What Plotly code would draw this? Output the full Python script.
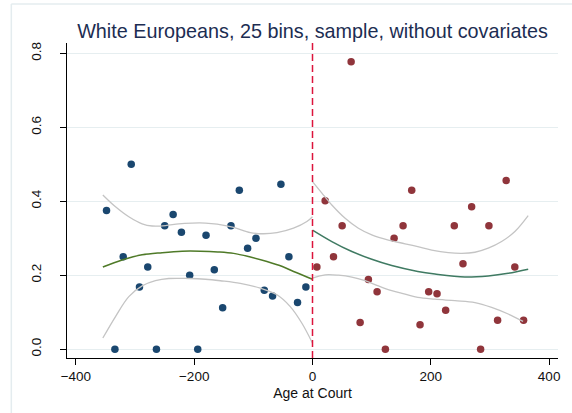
import plotly.graph_objects as go

# Binned means, left of the cutoff (navy) and right of the cutoff (maroon)
left_x = [-348.2, -334.0, -320.0, -306.4, -292.5, -278.5, -263.8, -249.8, -235.6,
          -221.6, -207.6, -194.0, -180.0, -166.0, -151.9, -137.8, -123.7, -109.7,
          -95.6, -81.5, -67.5, -53.4, -39.9, -25.3, -11.2]
left_y = [0.375, 0.0, 0.250, 0.500, 0.168, 0.222, 0.0, 0.334, 0.364,
          0.316, 0.200, 0.0, 0.308, 0.215, 0.112, 0.334, 0.430, 0.273,
          0.300, 0.159, 0.144, 0.446, 0.250, 0.126, 0.168]

right_x = [7.4, 21.4, 35.5, 50.1, 65.3, 80.5, 94.5, 109.2, 123.2, 137.9, 153.1,
           167.7, 181.8, 196.4, 210.5, 225.1, 239.7, 254.4, 269.0, 284.2, 298.2,
           312.9, 327.4, 342.0, 356.8]
right_y = [0.222, 0.401, 0.250, 0.334, 0.777, 0.072, 0.188, 0.155, 0.0, 0.300,
           0.334, 0.430, 0.066, 0.155, 0.150, 0.105, 0.334, 0.231, 0.385, 0.0,
           0.334, 0.078, 0.456, 0.222, 0.078]

# Fitted curves and confidence bands, sampled along the running variable
fit_left_x = [-354.4, -321.7, -288.0, -254.2, -220.4, -189.5, -160.0, -133.3, -105.0, -77.0, -52.0, -32.0, 0.0]
fit_left_y = [0.222, 0.241, 0.255, 0.261, 0.265, 0.265, 0.263, 0.259, 0.249, 0.237, 0.224, 0.210, 0.189]

ci_left_hi_x = [-354.4, -333.0, -310.5, -288.0, -271.0, -248.6, -226.2, -203.5, -181.0,
                -161.3, -133.3, -105.1, -82.7, -60.1, -32.1, -9.5, 0.0]
ci_left_hi_y = [0.417, 0.385, 0.358, 0.339, 0.333, 0.334, 0.339, 0.341, 0.341,
                0.338, 0.329, 0.315, 0.312, 0.315, 0.327, 0.345, 0.358]

ci_left_lo_x = [-354.4, -333.0, -310.5, -288.0, -265.5, -243.0, -209.3, -181.0,
                -155.8, -122.0, -88.3, -60.1, -37.6, -17.9, 0.0]
ci_left_lo_y = [0.030, 0.088, 0.142, 0.171, 0.185, 0.191, 0.191, 0.189,
                0.185, 0.178, 0.165, 0.147, 0.115, 0.070, 0.016]

fit_right_x = [0.0, 32.7, 66.5, 100.2, 134.0, 178.0, 207.0, 257.7, 297.0, 330.8, 364.6]
fit_right_y = [0.322, 0.291, 0.264, 0.243, 0.226, 0.210, 0.203, 0.195, 0.198, 0.205, 0.216]

ci_right_hi_x = [0.0, 15.9, 32.7, 55.2, 77.6, 100.2, 128.3, 156.5, 178.0, 201.5,
                 229.5, 252.2, 274.6, 297.0, 319.7, 342.1, 364.6]
ci_right_hi_y = [0.453, 0.422, 0.390, 0.354, 0.327, 0.309, 0.295, 0.285, 0.277, 0.268,
                 0.261, 0.259, 0.262, 0.273, 0.291, 0.318, 0.361]

ci_right_lo_x = [0.0, 21.4, 43.9, 66.5, 88.9, 111.4, 134.0, 156.5, 178.0, 207.0,
                 240.8, 274.6, 302.8, 330.8, 356.0]
ci_right_lo_y = [0.192, 0.201, 0.200, 0.195, 0.185, 0.171, 0.158, 0.149, 0.140, 0.135,
                 0.131, 0.126, 0.113, 0.095, 0.075]

x_ticks = [-400, -200, 0, 200, 400]
y_ticks = [0.0, 0.2, 0.4, 0.6, 0.8]

NAVY = "#1a476f"
MAROON = "#90353b"
GREEN_L = "#4f7a28"
GREEN_R = "#3f7a62"
GRAY = "#c4c4c4"
FONT = "Liberation Sans, Arial, Helvetica, sans-serif"

fig = go.Figure()

fig.add_trace(go.Scatter(x=left_x, y=left_y, mode="markers",
                         marker=dict(color=NAVY, size=7.5, line=dict(width=0))))
fig.add_trace(go.Scatter(x=right_x, y=right_y, mode="markers",
                         marker=dict(color=MAROON, size=7.5, line=dict(width=0))))

for xs, ys in [(ci_left_hi_x, ci_left_hi_y), (ci_left_lo_x, ci_left_lo_y),
               (ci_right_hi_x, ci_right_hi_y), (ci_right_lo_x, ci_right_lo_y)]:
    fig.add_trace(go.Scatter(x=xs, y=ys, mode="lines", line_shape="spline",
                             line=dict(color=GRAY, width=1.3)))

fig.add_trace(go.Scatter(x=fit_left_x, y=fit_left_y, mode="lines", line_shape="spline",
                         line=dict(color=GREEN_L, width=1.5)))
fig.add_trace(go.Scatter(x=fit_right_x, y=fit_right_y, mode="lines", line_shape="spline",
                         line=dict(color=GREEN_R, width=1.5)))

# Cutoff line at zero
fig.add_shape(type="line", xref="x", yref="paper", x0=0, x1=0, y0=0, y1=1,
              line=dict(color="#dc143c", width=1.5, dash="7px,4px"))

# Light frame around the graph region
fig.add_shape(type="line", xref="paper", yref="paper", x0=-0.1134, x1=1.2, y0=1.1237, y1=1.1237,
              line=dict(color="#e4ecef", width=1.5))
fig.add_shape(type="line", xref="paper", yref="paper", x0=-0.1134, x1=-0.1134, y0=-0.3, y1=1.1237,
              line=dict(color="#e4ecef", width=1.5))

fig.update_layout(
    width=572, height=413,
    margin=dict(l=67, r=14, t=43, b=55),
    paper_bgcolor="white", plot_bgcolor="white",
    showlegend=False,
    font=dict(family=FONT, color="#111111"),
    title=dict(text="White Europeans, 25 bins, sample, without covariates",
               font=dict(family=FONT, size=19.8, color="#1c2d52"),
               x=0.5, xref="paper", xanchor="center",
               y=1 - 31 / 413, yref="container", yanchor="middle"),
)

fig.update_xaxes(range=[-415, 415], tickvals=x_ticks, ticks="outside", ticklen=6,
                 tickcolor="black", showline=True, linecolor="black", linewidth=1,
                 showgrid=False, zeroline=False,
                 tickfont=dict(size=13.5, color="#111111"),
                 title=dict(text="Age at Court", font=dict(size=14, color="#111111"), standoff=4))
fig.update_yaxes(range=[-0.024, 0.828], tickvals=y_ticks, tickformat=".1f",
                 ticks="outside", ticklen=6, tickcolor="black", tickangle=-90,
                 showline=True, linecolor="black", linewidth=1,
                 showgrid=True, gridcolor="#e6eef0", gridwidth=1, zeroline=False,
                 tickfont=dict(size=13.5, color="#111111"), ticklabelstandoff=14)

fig.write_html("out.html")
